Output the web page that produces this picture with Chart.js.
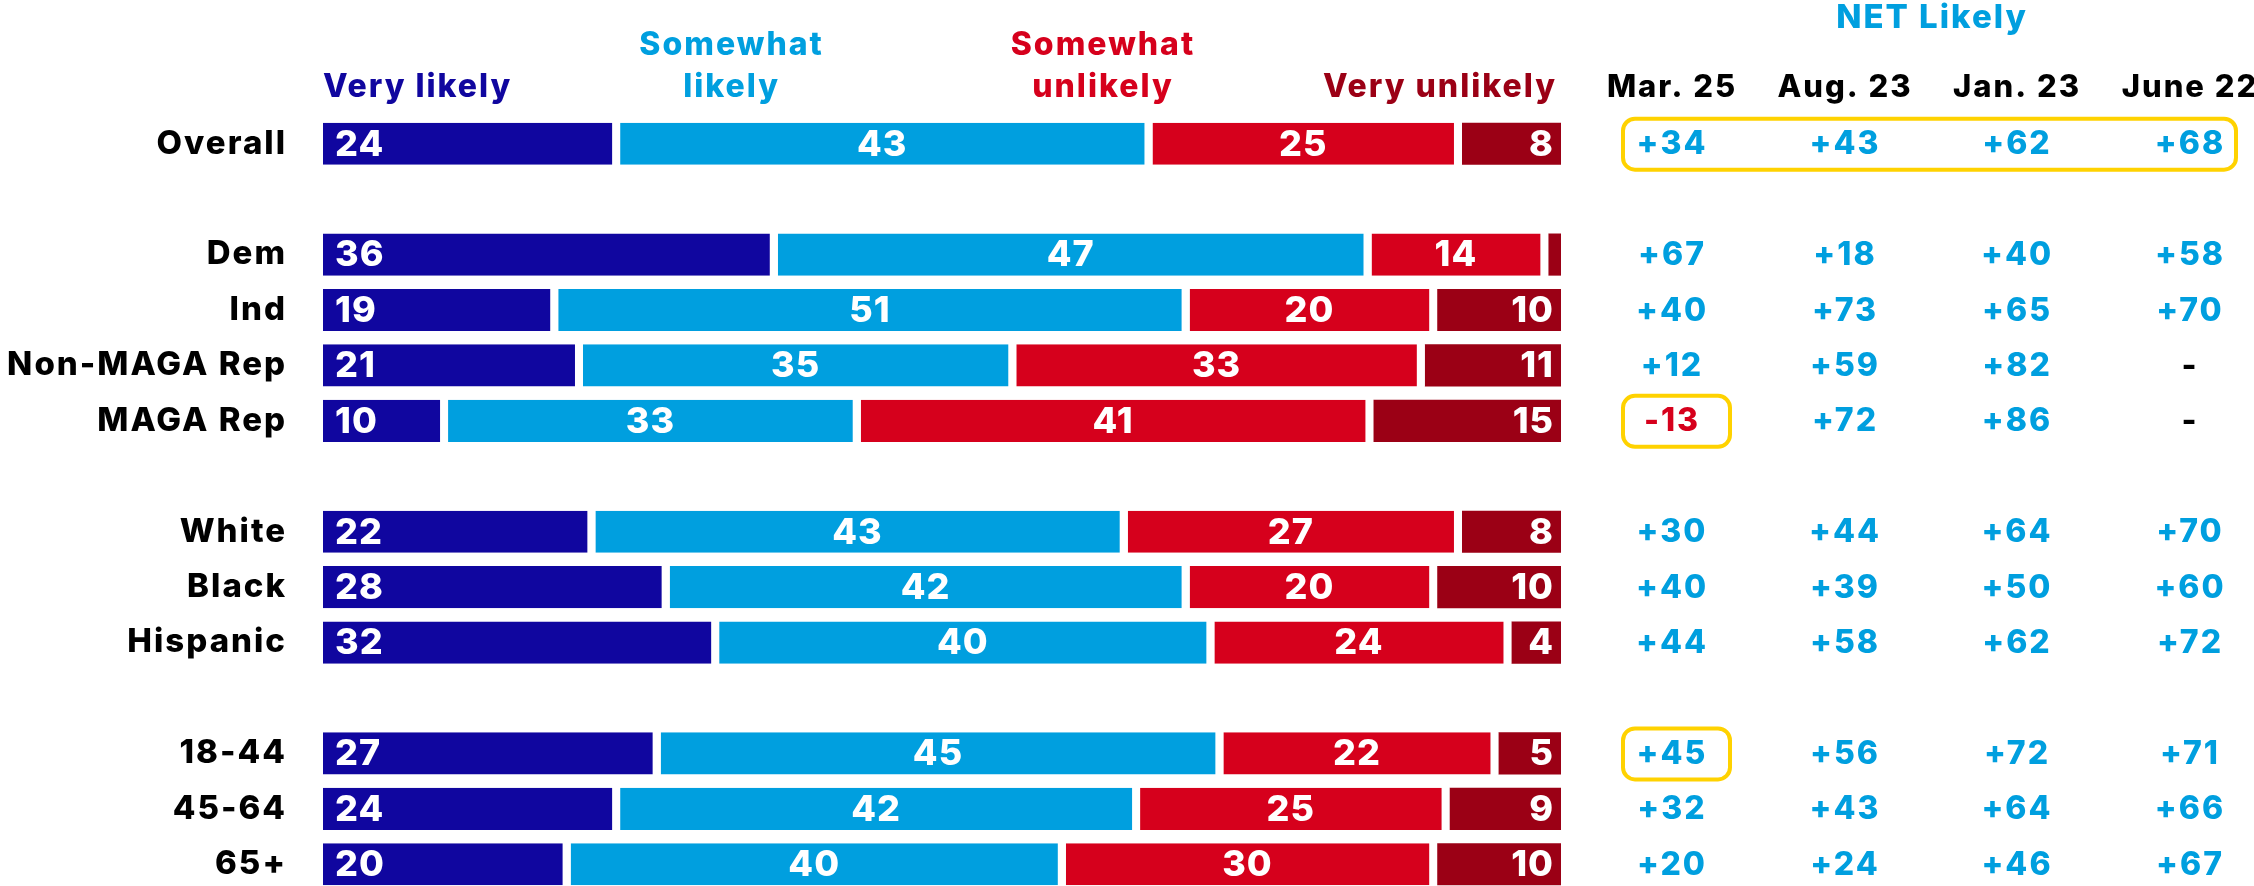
<!DOCTYPE html>
<html>
<head>
<meta charset="utf-8">
<title>Likelihood by group</title>
<script src="https://cdn.jsdelivr.net/npm/chart.js@4.4.1/dist/chart.umd.min.js"></script>
<style>
  html, body { margin: 0; padding: 0; background: #fff; overflow: hidden; }
  #clip { width: 2254px; height: 886px; overflow: hidden; }
  canvas { display: block; }
</style>
</head>
<body>
<div id="clip"><canvas id="chart" width="2254" height="892"></canvas></div>
<script>
// rows ('' = spacer between groups)
const groups = ['Overall', '', 'Dem', 'Ind', 'Non-MAGA Rep', 'MAGA Rep', '', 'White', 'Black', 'Hispanic', '', '18-44', '45-64', '65+'];

const veryLikely       = [24, null, 36, 19, 21, 10, null, 22, 28, 32, null, 27, 24, 20];
const somewhatLikely   = [43, null, 47, 51, 35, 33, null, 43, 42, 40, null, 45, 42, 40];
const somewhatUnlikely = [25, null, 14, 20, 33, 41, null, 27, 20, 24, null, 22, 25, 30];
const veryUnlikely     = [8,  null, 1,  10, 11, 15, null, 8,  10, 4,  null, 5,  9,  10];

// NET likely by survey wave (null = not asked)
const waves   = ['Mar. 25', 'Aug. 23', 'Jan. 23', 'June 22'];
const netMar25 = [34, null, 67, 40, 12, -13, null, 30, 40, 44, null, 45, 32, 20];
const netAug23 = [43, null, 18, 73, 59, 72,  null, 44, 39, 58, null, 56, 43, 24];
const netJan23 = [62, null, 40, 65, 82, 86,  null, 64, 50, 62, null, 72, 64, 46];
const netJun22 = [68, null, 58, 70, null, null, null, 70, 60, 72, null, 71, 66, 67];
const netCols = [netMar25, netAug23, netJan23, netJun22];

// boxed cells: row index, first and last wave column
const highlights = [
  { row: 0, from: 0, to: 3 },
  { row: 5, from: 0, to: 0 },
  { row: 11, from: 0, to: 0 }
];

const COLORS = ['#10069F', '#009FDF', '#D6001C', '#9B0015'];
const FONT = 'Inter, "Open Sans", sans-serif';
const GAP = 8;

const series = [veryLikely, somewhatLikely, somewhatUnlikely, veryUnlikely];
const rowTotals = groups.map((g, i) => series.reduce((s, arr) => s + (arr[i] || 0), 0));
// each bar spans the full row width
const share = arr => arr.map((v, i) => v == null ? null : v / rowTotals[i] * 100);

// wider tracking for every text drawn on the canvas
const tracking = {
  id: 'tracking',
  beforeDraw(chart) { chart.ctx.letterSpacing = '2px'; }
};

const segmentLabels = {
  id: 'segmentLabels',
  afterDatasetsDraw(chart) {
    const ctx = chart.ctx;
    ctx.save();
    ctx.letterSpacing = '1px';
    ctx.font = '800 36px ' + FONT;
    ctx.fillStyle = '#fff';
    ctx.textBaseline = 'middle';
    chart.data.datasets.forEach((ds, di) => {
      chart.getDatasetMeta(di).data.forEach((bar, i) => {
        const v = ds.raw[i];
        if (v == null || v < 3) return;
        const p = bar.getProps(['x', 'y', 'base'], true);
        const end = di < 3 ? p.x - GAP : p.x;
        let tx;
        if (di === 0) { ctx.textAlign = 'left'; tx = p.base + 12; }
        else if (di === 3) { ctx.textAlign = 'right'; tx = end - 7; }
        else { ctx.textAlign = 'center'; tx = (p.base + end) / 2; }
        ctx.fillText(String(v), tx, p.y + 1);
      });
    });
    ctx.restore();
  }
};

const headersAndTable = {
  id: 'headersAndTable',
  afterDraw(chart) {
    const ctx = chart.ctx;
    const xs = chart.scales.x, ys = chart.scales.y;
    const left = chart.chartArea.left, right = chart.chartArea.right;
    const colX = [1672, 1845, 2017, 2190];
    ctx.save();
    ctx.textBaseline = 'alphabetic';

    // response headers over the bars
    ctx.font = '800 32px ' + FONT;
    ctx.fillStyle = COLORS[0]; ctx.textAlign = 'left';
    ctx.fillText('Very likely', left, 97);
    ctx.fillStyle = COLORS[1]; ctx.textAlign = 'center';
    ctx.fillText('Somewhat', xs.getPixelForValue(33), 55);
    ctx.fillText('likely', xs.getPixelForValue(33), 97);
    ctx.fillStyle = COLORS[2];
    ctx.fillText('Somewhat', xs.getPixelForValue(63), 55);
    ctx.fillText('unlikely', xs.getPixelForValue(63), 97);
    ctx.fillStyle = COLORS[3]; ctx.textAlign = 'right';
    ctx.fillText('Very unlikely', right - 4, 97);

    // NET table
    ctx.textAlign = 'center';
    ctx.font = '800 33px ' + FONT;
    ctx.fillStyle = '#009FDF';
    ctx.fillText('NET Likely', 1932, 28);
    ctx.font = '800 31px ' + FONT;
    ctx.fillStyle = '#000';
    waves.forEach((w, c) => ctx.fillText(w, colX[c], 97));

    ctx.font = '800 32px ' + FONT;
    ctx.textBaseline = 'middle';
    groups.forEach((g, i) => {
      if (!g) return;
      const y = ys.getPixelForValue(i) + 1;
      netCols.forEach((col, c) => {
        const v = col[i];
        if (v == null) { ctx.fillStyle = '#000'; ctx.fillText('-', colX[c], y); }
        else if (v < 0) { ctx.fillStyle = '#D6001C'; ctx.fillText('-' + Math.abs(v), colX[c], y); }
        else { ctx.fillStyle = '#009FDF'; ctx.fillText('+' + v, colX[c], y); }
      });
    });

    ctx.strokeStyle = '#FFD200';
    ctx.lineWidth = 4;
    highlights.forEach(h => {
      const y = ys.getPixelForValue(h.row);
      const x0 = colX[h.from] - 49;
      const x1 = Math.min(colX[h.to] + 58, 2236);
      ctx.beginPath();
      ctx.roundRect(x0, y - 25, x1 - x0, 51, 12);
      ctx.stroke();
    });
    ctx.restore();
  }
};

const datasets = ['Very likely', 'Somewhat likely', 'Somewhat unlikely', 'Very unlikely'].map((name, di) => ({
  label: name,
  data: share(series[di]),
  raw: series[di],
  backgroundColor: COLORS[di],
  borderColor: '#fff',
  borderWidth: { top: 0, bottom: 0, left: 0, right: di < 3 ? GAP : 0 },
  borderSkipped: false,
  categoryPercentage: 1,
  barPercentage: 0.76
}));

new Chart(document.getElementById('chart'), {
  type: 'bar',
  data: { labels: groups, datasets: datasets },
  options: {
    indexAxis: 'y',
    responsive: false,
    animation: false,
    devicePixelRatio: 1,
    layout: { padding: { top: 116, bottom: 0, left: 0, right: 693 } },
    plugins: { legend: { display: false }, tooltip: { enabled: false } },
    scales: {
      x: { stacked: true, min: 0, max: 100, display: false },
      y: {
        stacked: true,
        grid: { display: false, drawTicks: false },
        border: { display: false },
        ticks: { color: '#000', padding: 36, font: { family: FONT, size: 33, weight: '800' } },
        afterFit(scale) {
          scale.width = 323;
          // rows run to the bottom edge, so no room kept for label overhang
          scale.paddingTop = 0;
          scale.paddingBottom = 0;
        }
      }
    }
  },
  plugins: [tracking, segmentLabels, headersAndTable]
});
</script>
</body>
</html>
